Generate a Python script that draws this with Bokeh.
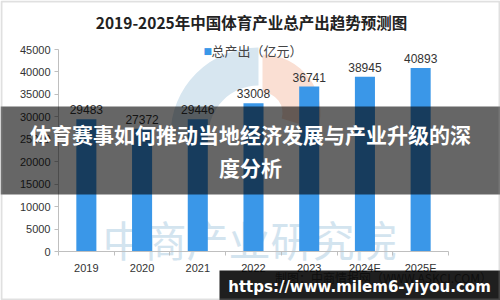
from bokeh.plotting import figure
from bokeh.models import Range1d, FixedTicker, Label, BoxAnnotation, ColumnDataSource
from bokeh.core.properties import value
from bokeh.embed import file_html
from bokeh.resources import INLINE

# ---- data ----
years = ["2019", "2020", "2021", "2022", "2023", "2024E", "2025E"]
output = [29483, 27372, 29446, 33008, 36741, 38945, 40893]
y_ticks = [0, 5000, 10000, 15000, 20000, 25000, 30000, 35000, 40000, 45000]
y_max = 45000

title_text = "2019-2025年中国体育产业总产出趋势预测图"
legend_text = "总产出（亿元）"
source_text = "制图：中商情报网（WWW.ASKCI.COM）"
watermark_text = "中商产业研究院"
banner_text = "体育赛事如何推动当地经济发展与产业升级的深\n度分析"
url_text = "https://www.milem6-yiyou.com"

# ---- layout (pixels) ----
W, H = 500, 300
L, R, T, B = 58, 52, 49, 49          # plotting area inside the canvas
n = len(years)
px_x = (W - L - R) / n
px_y = (H - T - B) / y_max

xs = [i + 0.5 for i in range(n)]
src = ColumnDataSource(dict(x=xs, top=output, lab=[str(v) for v in output]))

p = figure(width=W, height=H, output_backend="svg", toolbar_location=None,
           x_range=Range1d(-L / px_x, n + R / px_x),
           y_range=Range1d(-B / px_y, y_max + T / px_y),
           min_border=0)
p.background_fill_color = "white"
p.border_fill_color = "white"
p.outline_line_color = None
p.grid.visible = False

def sy(y_top):
    return H - y_top
def dx(sx_):
    return (sx_ - L) / px_x
def dy(sy_):
    return (H - B - sy_) / px_y

# faint logo arcs behind bars
p.annular_wedge(x=[dx(258)], y=[dy(135)], inner_radius=50, outer_radius=88,
                inner_radius_units="screen", outer_radius_units="screen",
                start_angle=1.5708, end_angle=3.1416, color="#d7e6f0", line_color=None, level="underlay")
p.annular_wedge(x=[dx(262)], y=[dy(112)], inner_radius=20, outer_radius=58,
                inner_radius_units="screen", outer_radius_units="screen",
                start_angle=-0.3, end_angle=1.5708, color="#fadfd3", line_color=None, level="underlay")
p.text(x=[dx(249)], y=[dy(238)], text=[watermark_text], text_font=value("Noto Sans CJK SC"),
       text_font_size="42px", text_color="#d3e4ef", text_align="center", text_baseline="middle",
       level="underlay")

# bars
p.vbar(x="x", top="top", width=0.36, source=src, color="#3a97e8", line_color=None)
p.text(x="x", y="top", text="lab", source=src, y_offset=-5, text_align="center",
       text_baseline="bottom", text_font_size="12px", text_color="#333333",
       text_font=value("Liberation Sans"))

# axes
ya = p.yaxis[0]
ya.fixed_location = 0
ya.bounds = (0, y_max)
ya.ticker = FixedTicker(ticks=y_ticks)
ya.axis_line_color = "#bfbfbf"
ya.major_tick_line_color = "#bfbfbf"
ya.major_tick_in = 0
ya.major_tick_out = 4
ya.minor_tick_line_color = None
ya.major_label_text_font = "Liberation Sans"
ya.major_label_text_font_size = "11px"
ya.major_label_text_color = "#333333"
ya.major_label_standoff = 4

xa = p.xaxis[0]
xa.fixed_location = 0
xa.bounds = (0, n)
xa.ticker = FixedTicker(ticks=xs, minor_ticks=list(range(n + 1)))
xa.major_label_overrides = {x: y for x, y in zip(xs, years)}
xa.axis_line_color = "#bfbfbf"
xa.major_tick_line_color = None
xa.minor_tick_line_color = "#bfbfbf"
xa.minor_tick_in = 0
xa.minor_tick_out = 4
xa.major_label_text_font = "Liberation Sans"
xa.major_label_text_font_size = "11px"
xa.major_label_text_color = "#333333"
xa.major_label_standoff = 4

# title & legend
p.add_layout(Label(x=251, y=sy(21), x_units="screen", y_units="screen", text=title_text,
                   text_font="Noto Sans CJK SC", text_font_style="bold", text_font_size="15.5px",
                   text_color="#222222", text_align="center", text_baseline="middle"))
p.add_layout(Label(x=203, y=sy(50), x_units="screen", y_units="screen", text="■",
                   text_font="DejaVu Sans", text_font_size="9px", text_color="#3a97e8",
                   text_align="left", text_baseline="middle"))
p.add_layout(Label(x=211, y=sy(50), x_units="screen", y_units="screen", text=legend_text,
                   text_font="Noto Sans CJK SC", text_font_size="13px", text_color="#444444",
                   text_align="left", text_baseline="middle"))

# source note (seen faintly through the url box)
p.add_layout(Label(x=383, y=sy(277), x_units="screen", y_units="screen", text=source_text,
                   text_font="Noto Sans CJK SC", text_font_size="12px", text_color="#777777",
                   text_align="center", text_baseline="middle"))

# banner overlay
p.add_layout(BoxAnnotation(left=0, right=W, top=sy(106), bottom=sy(194),
                           left_units="screen", right_units="screen", top_units="screen", bottom_units="screen",
                           fill_color="black", fill_alpha=0.6, line_color=None))
p.add_layout(Label(x=250, y=sy(150), x_units="screen", y_units="screen", text=banner_text,
                   text_font="Noto Sans CJK SC", text_font_style="bold", text_font_size="21px",
                   text_color="white", text_align="center", text_baseline="middle", text_line_height=1.1))

# url box
p.add_layout(BoxAnnotation(left=219, right=W, top=sy(270), bottom=sy(300),
                           left_units="screen", right_units="screen", top_units="screen", bottom_units="screen",
                           fill_color="black", fill_alpha=0.88, line_color=None))
p.add_layout(Label(x=359, y=sy(286), x_units="screen", y_units="screen", text=url_text,
                   text_font="DejaVu Sans", text_font_style="bold", text_font_size="15px",
                   text_color="white", text_align="center", text_baseline="middle"))

# outer frame
p.add_layout(BoxAnnotation(left=1, right=W - 1, top=sy(1), bottom=sy(H - 1),
                           left_units="screen", right_units="screen", top_units="screen", bottom_units="screen",
                           fill_alpha=0, line_color="#999999", line_width=2))

open("out.html", "w").write(file_html(p, INLINE))
